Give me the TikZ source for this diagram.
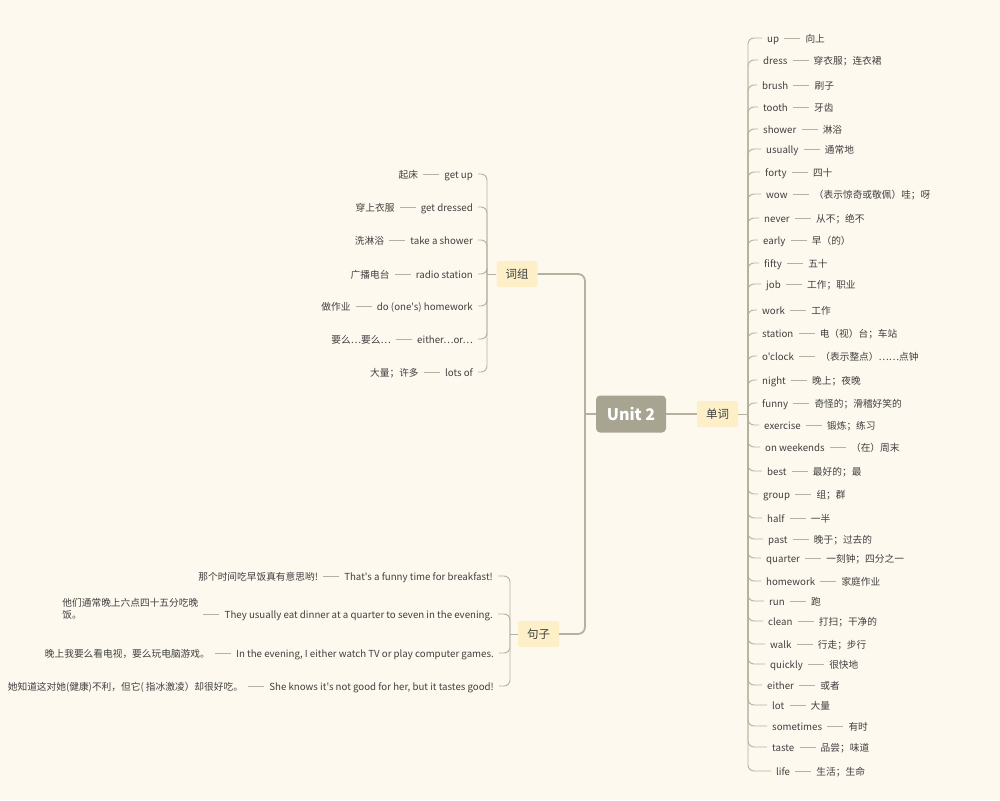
\documentclass[tikz,border=0pt]{standalone}
\usepackage{fontspec}
\setmainfont{Noto Sans CJK SC}[Ligatures=TeXOff]
\usetikzlibrary{positioning}

\definecolor{bgcream}{HTML}{FEF9EF}
\definecolor{linetan}{HTML}{B8B09E}
\definecolor{rootgrey}{HTML}{A8A492}
\definecolor{topicyellow}{HTML}{FDF0C9}
\definecolor{inkgrey}{HTML}{3F3F3F}

\tikzset{
    root/.style={fill=rootgrey, text=white, font=\fontsize{16}{19}\selectfont\bfseries,
        rounded corners=4pt, minimum width=70pt, minimum height=37pt, inner sep=0pt},
    topic/.style={fill=topicyellow, text=inkgrey, font=\fontsize{11.5}{14}\selectfont,
        rounded corners=2pt, minimum width=41pt, minimum height=26pt, inner sep=0pt},
    leaf/.style={text=inkgrey, font=\fontsize{9.7}{12}\selectfont,
        inner xsep=5pt, inner ysep=1pt, text height=9pt, text depth=1pt},
    trunk/.style={draw=linetan, line width=1.8pt, rounded corners=7pt},
    twig/.style={draw=linetan, line width=0.9pt, rounded corners=6pt},
    gloss/.style={draw=linetan, line width=0.8pt}
}

\begin{document}
\begin{tikzpicture}[x=1pt, y=-1pt]

    % Page and background
    \useasboundingbox (0,0) rectangle (1000,800);
    \fill[bgcream] (0,0) rectangle (1000,800);

    % Central topic and the three branches
    \node[root] (unit) at (631,414) {Unit 2};
    \node[topic] (dc) at (717.5,414) {单词};
    \node[topic] (cz) at (517,274) {词组};
    \node[topic] (jz) at (538.5,634) {句子};

    % Junctions where the branches split
    \coordinate (uj) at (585,414);
    \coordinate (dcj) at (748,414);
    \coordinate (czj) at (487,274);
    \coordinate (jzj) at (510,634);

    % Main connectors
    \draw[trunk] (unit.east) -- (dc.west);
    \draw[trunk] (unit.west) -- (uj);
    \draw[trunk] (uj) |- (cz.east);
    \draw[trunk] (uj) |- (jz.east);

    % Words: word -- meaning, hanging on the right spine
    \draw[twig] (dc.east) -- (dcj);
    \foreach \x/\y/\w/\m [count=\i] in {
        767/38/up/向上, 763/60/dress/穿衣服；连衣裙, 762/85/brush/刷子,
        763/107/tooth/牙齿, 763/129/shower/淋浴, 766/149/usually/通常地,
        765/172/forty/四十, 766/194/wow/（表示惊奇或敬佩）哇；呀,
        764/218/never/从不；绝不, 763/240/early/早（的）, 764/263/fifty/五十,
        766/284/job/工作；职业, 762/310/work/工作, 762/333/station/电（视）台；车站,
        762/356/o'clock/（表示整点）……点钟, 762/380/night/晚上；夜晚,
        762/403/funny/奇怪的；滑稽好笑的, 764/425/exercise/锻炼；练习,
        765/447/on weekends/（在）周末, 767/471/best/最好的；最, 763/494/group/组；群,
        767/518/half/一半, 768/539/past/晚于；过去的, 766/558/quarter/一刻钟；四分之一,
        766/581/homework/家庭作业, 769/601/run/跑, 768/621/clean/打扫；干净的,
        770/644/walk/行走；步行, 770/664/quickly/很快地, 767/685/either/或者,
        772/705/lot/大量, 772/726/sometimes/有时, 772/747/taste/品尝；味道,
        776/771/life/生活；生命} {
        \node[leaf, anchor=west] (w\i) at (\x-5,\y) {\w};
        \node[leaf, right=16pt of w\i] (m\i) {\m};
        \draw[twig] (dcj) |- (w\i.west);
        \draw[gloss] (w\i.east) -- (m\i.west);
    }

    % Phrases: meaning -- phrase, hanging on the left spine
    \draw[twig] (cz.west) -- (czj);
    \foreach \y/\p/\m [count=\i] in {
        174/get up/起床, 207/get dressed/穿上衣服, 240/take a shower/洗淋浴,
        274/radio station/广播电台, 306/{do (one's) homework}/做作业,
        339/either⋯or⋯/要么⋯要么⋯, 372/lots of/大量；许多} {
        \node[leaf, anchor=east] (p\i) at (478,\y) {\p};
        \node[leaf, left=16pt of p\i] (q\i) {\m};
        \draw[twig] (czj) |- (p\i.east);
        \draw[gloss] (p\i.west) -- (q\i.east);
    }

    % Sentences
    \draw[twig] (jz.west) -- (jzj);
    \node[leaf, anchor=east] (s1) at (498,576) {That's a funny time for breakfast!};
    \node[leaf, anchor=east] (s2) at (498,614) {They usually eat dinner at a quarter to seven in the evening.};
    \node[leaf, anchor=east] (s3) at (499,653) {In the evening, I either watch TV or play computer games.};
    \node[leaf, anchor=east] (s4) at (499,686) {She knows it's not good for her, but it tastes good!};
    \node[leaf, left=16pt of s1] (t1) {那个时间吃早饭真有意思哟!};
    \node[leaf, left=16pt of s2, align=left] (t2) {他们通常晚上六点四十五分吃晚\\饭。};
    \node[leaf, left=16pt of s3] (t3) {晚上我要么看电视，要么玩电脑游戏。};
    \node[leaf, left=16pt of s4] (t4) {她知道这对她(健康)不利，但它( 指冰激凌）却很好吃。};
    \foreach \i in {1,...,4} {
        \draw[twig] (jzj) |- (s\i.east);
        \draw[gloss] (s\i.west) -- (t\i.east);
    }

\end{tikzpicture}
\end{document}
